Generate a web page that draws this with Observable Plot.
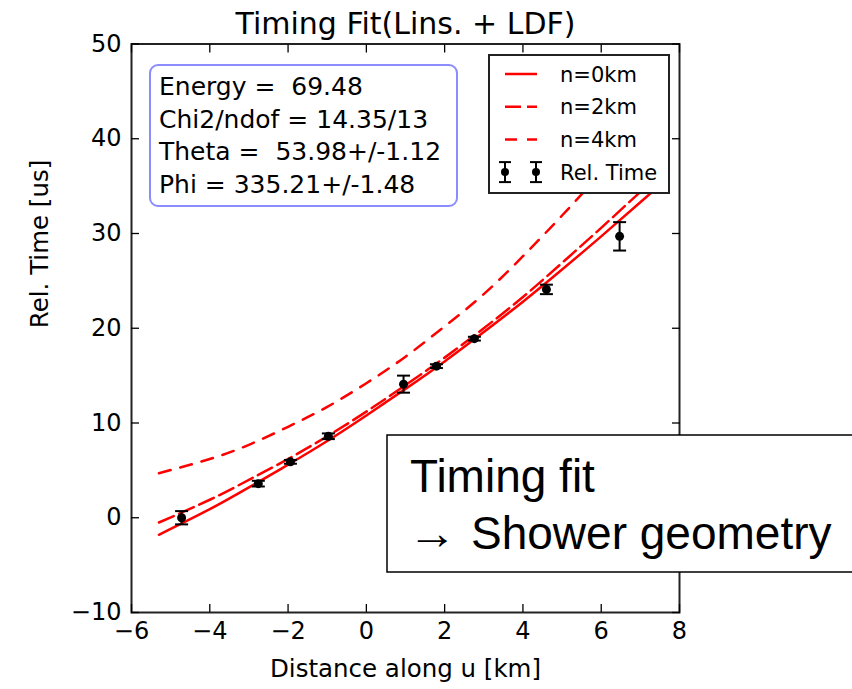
<!DOCTYPE html>
<html><head><meta charset="utf-8">
<script src="https://cdn.jsdelivr.net/npm/d3@7"></script>
<script src="https://cdn.jsdelivr.net/npm/@observablehq/plot@0.6"></script>
<style>
html,body{margin:0;padding:0;background:#fff;}
#chart{width:852px;height:689px;overflow:hidden;position:relative;}
svg{display:block;}
</style></head><body><div id="chart"></div>
<script>
// ---------- data ----------
const title = "Timing Fit(Lins. + LDF)";
const xLabel = "Distance along u [km]";
const yLabel = "Rel. Time [us]";
const xTicks = [-6, -4, -2, 0, 2, 4, 6, 8];
const xTickLabels = ["−6", "−4", "−2", "0", "2", "4", "6", "8"];
const yTicks = [-10, 0, 10, 20, 30, 40, 50];
const yTickLabels = ["−10", "0", "10", "20", "30", "40", "50"];

// measured points (black, with error bars)
const distance   = [-4.72, -2.76, -1.94, -0.97, 0.95, 1.79, 2.76, 4.60, 6.47];
const relTime    = [0.0, 3.6, 5.9, 8.6, 14.1, 16.0, 18.9, 24.1, 29.7];
const relTimeErr = [0.7, 0.3, 0.2, 0.3, 0.9, 0.2, 0.2, 0.5, 1.5];

// fitted curves
const curveX = [-5.3, -4, -3, -2, -1, 0, 1, 2, 3, 4, 5, 6, 7, 7.5];
const fitN0  = [-1.8, 0.9, 3.2, 5.6, 8.1, 10.8, 13.6, 16.5, 19.6, 22.8, 26.2, 29.7, 33.3, 35.1];
const fitN2  = [-0.5, 1.9, 4.0, 6.2, 8.6, 11.2, 14.0, 16.9, 20.0, 23.3, 26.9, 30.6, 34.4, 36.3];
const fitN4  = [4.7, 6.2, 7.7, 9.6, 11.7, 14.2, 17.0, 20.2, 23.6, 27.6, 31.9, 36.4, 41.0, 43.5];

const seriesNames = ["n=0km", "n=2km", "n=4km"];
const pointsName = "Rel. Time";
const statsLines = ["Energy =  69.48", "Chi2/ndof = 14.35/13", "Theta =  53.98+/-1.12", "Phi = 335.21+/-1.48"];
const noteLines = ["Timing fit", "→", "Shower geometry"];

// ---------- build tables ----------
const fitValues = [fitN0, fitN2, fitN4];
const fits = seriesNames.map((name, s) => curveX.map((x, i) => ({name, x, y: fitValues[s][i]})));
const points = distance.map((x, i) => ({x, y: relTime[i], err: relTimeErr[i]}));
const xFmt = new Map(xTicks.map((t, i) => [t, xTickLabels[i]]));
const yFmt = new Map(yTicks.map((t, i) => [t, yTickLabels[i]]));
const dashes = [null, "16,6", "12,10"];

const capSymbol = {draw(ctx, size) { const r = Math.sqrt(size / Math.PI); ctx.moveTo(-r, 0); ctx.lineTo(r, 0); }};

const FONT = "DejaVu Sans";
const plot = Plot.plot({
  width: 852, height: 689,
  marginLeft: 131, marginRight: 173, marginTop: 43.5, marginBottom: 77,
  style: {fontFamily: FONT, background: "white", color: "black"},
  x: {domain: [-6, 8]},
  y: {domain: [-10, 50]},
  marks: [
    ...fits.map((f, s) => Plot.line(f, {x: "x", y: "y", stroke: "#ff0000", strokeWidth: 2.5,
      strokeDasharray: dashes[s], curve: "natural", clip: true})),
    Plot.ruleX(points, {x: "x", y1: d => d.y - d.err, y2: d => d.y + d.err, stroke: "black", strokeWidth: 2}),
    Plot.dot(points, {x: "x", y: d => d.y - d.err, symbol: capSymbol, r: 6.5, stroke: "black", strokeWidth: 2, fill: "none"}),
    Plot.dot(points, {x: "x", y: d => d.y + d.err, symbol: capSymbol, r: 6.5, stroke: "black", strokeWidth: 2, fill: "none"}),
    Plot.dot(points, {x: "x", y: "y", r: 4.5, fill: "black"}),
    Plot.frame({stroke: "#222", strokeWidth: 2}),
    Plot.axisX(xTicks, {anchor: "bottom", tickSize: -8, tickPadding: 17, tickFormat: d => xFmt.get(d), fontSize: 24, label: null, strokeWidth: 1.3}),
    Plot.axisX(xTicks, {anchor: "top", tickSize: -8, fill: "none", label: null, strokeWidth: 1.3}),
    Plot.axisY(yTicks, {anchor: "left", tickSize: -8, tickPadding: 18, tickFormat: d => yFmt.get(d), fontSize: 24, label: null, strokeWidth: 1.3}),
    Plot.axisY(yTicks, {anchor: "right", tickSize: -8, fill: "none", label: null, strokeWidth: 1.3}),
    Plot.text([title], {text: d => d, frameAnchor: "top", dy: -10.5, lineAnchor: "bottom", fontSize: 30}),
    Plot.text([xLabel], {text: d => d, frameAnchor: "bottom", dy: 64, lineAnchor: "bottom", fontSize: 24.5}),
    Plot.text([yLabel], {text: d => d, frameAnchor: "left", dx: -91, rotate: -90, fontSize: 24.5})
  ]
});
document.getElementById("chart").appendChild(plot);

// ---------- annotation overlays ----------
const svg = d3.select(plot);
// statistics box
const sb = svg.append("g").attr("font-family", FONT).attr("font-size", 25).attr("fill", "black").attr("text-anchor", "start");
sb.append("rect").attr("x", 150).attr("y", 65).attr("width", 307).attr("height", 141).attr("rx", 8)
  .attr("fill", "white").attr("stroke", "#8c8cff").attr("stroke-width", 2);
statsLines.forEach((t, i) => sb.append("text").attr("x", 159).attr("y", 95 + i * 32.5)
  .style("white-space", "pre").text(t));

// legend
const lg = svg.append("g").attr("font-family", FONT).attr("font-size", 21).attr("text-anchor", "start");
lg.append("rect").attr("x", 489).attr("y", 55).attr("width", 180).attr("height", 138)
  .attr("fill", "white").attr("stroke", "#222").attr("stroke-width", 2);
const rowY = i => 74 + i * 32.7;
seriesNames.forEach((name, s) => {
  lg.append("line").attr("x1", 505).attr("x2", 537).attr("y1", rowY(s)).attr("y2", rowY(s))
    .attr("stroke", "#ff0000").attr("stroke-width", 2.5).attr("stroke-dasharray", dashes[s]);
  lg.append("text").attr("x", 560).attr("y", rowY(s)).attr("dy", "0.36em").text(name);
});
[505, 536].forEach(cx => {
  const cy = rowY(3);
  lg.append("line").attr("x1", cx).attr("x2", cx).attr("y1", cy - 10).attr("y2", cy + 10).attr("stroke", "black").attr("stroke-width", 2);
  [cy - 10, cy + 10].forEach(yy => lg.append("line").attr("x1", cx - 6).attr("x2", cx + 6).attr("y1", yy).attr("y2", yy).attr("stroke", "black").attr("stroke-width", 2));
  lg.append("circle").attr("cx", cx).attr("cy", cy).attr("r", 4).attr("fill", "black");
});
lg.append("text").attr("x", 560).attr("y", rowY(3)).attr("dy", "0.36em").text(pointsName);

// slide note box
const nb = svg.append("g").attr("font-family", "Liberation Sans, Arial, sans-serif").attr("font-size", 46).attr("text-anchor", "start");
nb.append("rect").attr("x", 387).attr("y", 435).attr("width", 480).attr("height", 137)
  .attr("fill", "white").attr("stroke", "black").attr("stroke-width", 1.5);
nb.append("text").attr("x", 410).attr("y", 492).text(noteLines[0]);
nb.append("text").attr("x", 408).attr("y", 549).attr("textLength", 49).attr("lengthAdjust", "spacingAndGlyphs").text(noteLines[1]);
nb.append("text").attr("x", 471).attr("y", 549).text(noteLines[2]);
</script>
</body></html>
